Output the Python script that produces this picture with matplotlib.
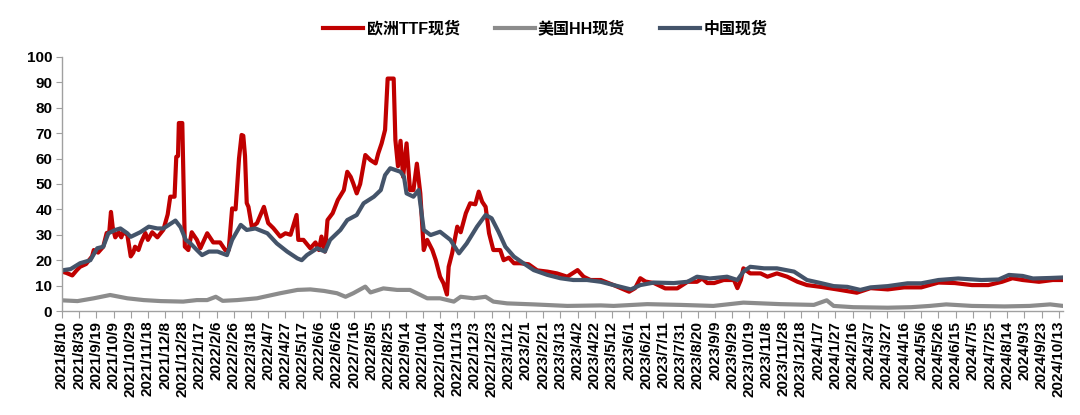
from matplotlib import pyplot as plt
import pandas as pd

plt.rcParams['font.family'] = ['Liberation Sans', 'Noto Sans CJK SC', 'DejaVu Sans']
plt.rcParams['font.weight'] = 'bold'

# 欧洲TTF现货
ttf_dates = ['2021-08-10', '2021-08-15', '2021-08-22', '2021-08-27', '2021-08-31', '2021-09-07',
             '2021-09-14', '2021-09-16', '2021-09-21', '2021-09-27', '2021-10-01', '2021-10-04',
             '2021-10-06', '2021-10-08', '2021-10-11', '2021-10-15', '2021-10-18', '2021-10-20',
             '2021-10-25', '2021-10-29', '2021-11-01', '2021-11-03', '2021-11-07', '2021-11-10',
             '2021-11-15', '2021-11-18', '2021-11-23', '2021-11-29', '2021-12-06', '2021-12-11',
             '2021-12-14', '2021-12-19', '2021-12-21', '2021-12-23', '2021-12-24', '2021-12-28',
             '2021-12-31', '2022-01-04', '2022-01-08', '2022-01-14', '2022-01-18', '2022-01-26',
             '2022-02-02', '2022-02-10', '2022-02-16', '2022-02-20', '2022-02-24', '2022-02-28',
             '2022-03-04', '2022-03-07', '2022-03-09', '2022-03-11', '2022-03-13', '2022-03-15',
             '2022-03-19', '2022-03-25', '2022-04-02', '2022-04-07', '2022-04-13', '2022-04-21',
             '2022-04-27', '2022-05-03', '2022-05-10', '2022-05-12', '2022-05-18', '2022-05-26',
             '2022-06-01', '2022-06-05', '2022-06-08', '2022-06-12', '2022-06-15', '2022-06-21',
             '2022-06-27', '2022-07-04', '2022-07-08', '2022-07-12', '2022-07-15', '2022-07-19',
             '2022-07-23', '2022-07-29', '2022-08-04', '2022-08-10', '2022-08-13', '2022-08-17',
             '2022-08-21', '2022-08-24', '2022-08-31', '2022-09-02', '2022-09-05', '2022-09-08',
             '2022-09-11', '2022-09-15', '2022-09-19', '2022-09-23', '2022-09-27', '2022-10-01',
             '2022-10-05', '2022-10-09', '2022-10-15', '2022-10-19', '2022-10-24', '2022-10-28',
             '2022-11-01', '2022-11-03', '2022-11-07', '2022-11-13', '2022-11-17', '2022-11-23',
             '2022-11-28', '2022-12-04', '2022-12-08', '2022-12-12', '2022-12-16', '2022-12-20',
             '2022-12-25', '2023-01-02', '2023-01-06', '2023-01-12', '2023-01-18', '2023-01-25',
             '2023-02-04', '2023-02-14', '2023-02-26', '2023-03-09', '2023-03-21', '2023-04-02',
             '2023-04-09', '2023-04-17', '2023-04-29', '2023-05-14', '2023-06-01', '2023-06-08',
             '2023-06-14', '2023-06-20', '2023-06-30', '2023-07-13', '2023-07-27', '2023-08-08',
             '2023-08-19', '2023-08-25', '2023-08-31', '2023-09-08', '2023-09-19', '2023-10-01',
             '2023-10-05', '2023-10-09', '2023-10-12', '2023-10-20', '2023-11-01', '2023-11-09',
             '2023-11-20', '2023-12-02', '2023-12-14', '2023-12-25', '2024-01-10', '2024-01-29',
             '2024-02-21', '2024-03-08', '2024-03-28', '2024-04-16', '2024-05-06', '2024-05-26',
             '2024-06-14', '2024-07-04', '2024-07-23', '2024-08-08', '2024-08-20', '2024-09-01',
             '2024-09-20', '2024-10-06', '2024-10-18']
ttf_values = [15.5, 15, 14, 16, 17.4, 18.5,
              21.5, 24, 23, 25.3, 30.7, 31,
              39, 33, 29, 31, 29, 31,
              30, 21.5, 23, 25.3, 24, 27,
              30.7, 28, 31, 29, 32, 38,
              45, 45, 60.7, 61, 74, 74,
              25.3, 24, 31, 28, 24.7, 30.6,
              27, 27, 24, 24, 40.4, 40,
              60, 69.3, 69, 61, 42.5, 41,
              33, 34.6, 41, 34.6, 32.6, 29.3,
              30.6, 30, 37.8, 28, 28, 24.7,
              27, 24, 29.3, 23.4, 35.8, 38.5,
              43.7, 47.6, 54.8, 52.8, 50.2, 46.3,
              50, 61.4, 59.4, 58.1, 62, 66,
              71.3, 91.5, 91.5, 67.3, 57, 67,
              52.8, 66, 47.6, 47.6, 58, 46.3,
              24, 28, 24, 20, 13.5, 10.9,
              6.5, 17.4, 22.7, 33.2, 31, 38.5,
              42.4, 42, 47, 43, 41, 30.6,
              24, 24, 20, 21, 18.8, 18.8,
              18.4, 16, 15.5, 14.8, 13.5, 16.1,
              13.5, 12.2, 12.2, 10.2, 7.6, 9,
              12.9, 11.6, 11, 8.9, 8.9, 11.5,
              11.5, 12.8, 11, 11, 12.2, 12.2,
              9, 12.2, 16.8, 14.8, 14.8, 13.5,
              14.8, 13.5, 11.5, 10.2, 9.5, 8.5,
              7.2, 9, 8.5, 9.3, 9.3, 11.2,
              11, 10.2, 10.2, 11.5, 12.9, 12.2,
              11.5, 12.2, 12.2]

# 美国HH现货
hh_dates = ['2021-08-10', '2021-08-28', '2021-09-16', '2021-10-05', '2021-10-25', '2021-11-13',
            '2021-12-03', '2021-12-29', '2022-01-14', '2022-01-26', '2022-02-05', '2022-02-13',
            '2022-03-02', '2022-03-25', '2022-04-02', '2022-04-21', '2022-05-11', '2022-05-26',
            '2022-06-11', '2022-06-26', '2022-07-06', '2022-07-15', '2022-07-29', '2022-08-04',
            '2022-08-19', '2022-09-04', '2022-09-19', '2022-09-27', '2022-10-09', '2022-10-24',
            '2022-11-09', '2022-11-17', '2022-12-02', '2022-12-16', '2022-12-25', '2023-01-10',
            '2023-02-10', '2023-03-21', '2023-04-29', '2023-05-14', '2023-06-22', '2023-07-31',
            '2023-09-07', '2023-10-12', '2023-11-24', '2024-01-02', '2024-01-17', '2024-01-25',
            '2024-02-17', '2024-03-28', '2024-04-24', '2024-05-16', '2024-06-04', '2024-07-04',
            '2024-08-11', '2024-09-09', '2024-10-03', '2024-10-18']
hh_values = [4.2, 3.9, 5, 6.3, 5, 4.3,
             3.9, 3.7, 4.3, 4.3, 5.6, 4,
             4.3, 5, 5.6, 7, 8.3, 8.5,
             7.9, 7, 5.6, 7, 9.6, 7.3,
             8.9, 8.3, 8.3, 7, 5, 5,
             3.7, 5.6, 5, 5.6, 3.7, 3,
             2.6, 2, 2.2, 2, 2.7, 2.4,
             2, 3.3, 2.7, 2.4, 4.2, 2,
             1.5, 1.3, 1.5, 2, 2.6, 2,
             1.8, 2, 2.6, 2]

# 中国现货
cn_dates = ['2021-08-10', '2021-08-20', '2021-08-31', '2021-09-12', '2021-09-20', '2021-09-27',
            '2021-10-03', '2021-10-11', '2021-10-17', '2021-10-25', '2021-10-29', '2021-11-09',
            '2021-11-19', '2021-11-29', '2021-12-06', '2021-12-20', '2021-12-26', '2022-01-01',
            '2022-01-06', '2022-01-14', '2022-01-20', '2022-01-28', '2022-02-07', '2022-02-18',
            '2022-02-24', '2022-03-06', '2022-03-13', '2022-03-23', '2022-04-06', '2022-04-17',
            '2022-04-29', '2022-05-11', '2022-05-16', '2022-05-22', '2022-06-03', '2022-06-12',
            '2022-06-18', '2022-06-30', '2022-07-08', '2022-07-19', '2022-07-27', '2022-08-08',
            '2022-08-16', '2022-08-21', '2022-08-27', '2022-09-08', '2022-09-12', '2022-09-15',
            '2022-09-23', '2022-09-29', '2022-10-05', '2022-10-13', '2022-10-24', '2022-11-05',
            '2022-11-15', '2022-11-24', '2022-12-06', '2022-12-16', '2022-12-23', '2022-12-31',
            '2023-01-08', '2023-01-18', '2023-01-29', '2023-02-10', '2023-02-26', '2023-03-13',
            '2023-03-28', '2023-04-13', '2023-04-29', '2023-05-14', '2023-06-03', '2023-06-14',
            '2023-06-30', '2023-07-23', '2023-08-08', '2023-08-19', '2023-09-03', '2023-09-23',
            '2023-10-05', '2023-10-12', '2023-10-20', '2023-11-05', '2023-11-20', '2023-12-10',
            '2023-12-25', '2024-01-10', '2024-01-25', '2024-02-10', '2024-02-25', '2024-03-08',
            '2024-03-28', '2024-04-20', '2024-05-06', '2024-05-26', '2024-06-18', '2024-07-15',
            '2024-08-04', '2024-08-16', '2024-09-01', '2024-09-13', '2024-10-03', '2024-10-18']
cn_values = [16, 16.5, 18.8, 20, 24.7, 25.3,
             30.6, 31.9, 32.5, 30.6, 29.2, 31,
             33.2, 32.5, 32.5, 35.6, 33, 28,
             26.8, 24, 22, 23.4, 23.4, 22,
             28, 33.9, 31.9, 32.5, 30.6, 26.6,
             23.4, 20.7, 20, 22, 24.7, 23.4,
             28, 31.9, 35.8, 37.8, 42.4, 45,
             47.6, 53.5, 56.2, 54.8, 52.8, 46.3,
             45, 47.6, 31.9, 29.9, 31.2, 28,
             22.7, 26.6, 33.2, 37.8, 36.5, 31.2,
             25.3, 21.4, 18.8, 16.1, 14.2, 12.9,
             12.2, 12.2, 11.5, 10.2, 8.5, 10.2,
             11.2, 11, 11.5, 13.5, 12.8, 13.5,
             12.2, 15.5, 17.4, 16.8, 16.8, 15.5,
             12.2, 11, 9.8, 9.5, 8.3, 9.3,
             9.8, 10.9, 10.9, 12.2, 12.8, 12.2,
             12.4, 14.2, 13.8, 12.8, 13, 13.2]

series = [
    ('欧洲TTF现货', ttf_dates, ttf_values, '#C00000'),
    ('美国HH现货', hh_dates, hh_values, '#8C8C8C'),
    ('中国现货', cn_dates, cn_values, '#44546A'),
]

fig = plt.figure(figsize=(10.8, 4.15), dpi=100)
ax = fig.add_axes([0.0574, 0.2506, 0.9269, 0.6121])

for name, dates, values, color in series:
    ax.plot(pd.to_datetime(dates), values, color=color, lw=3.0, label=name,
            solid_joinstyle='round')

ticks = pd.date_range('2021-08-10', '2024-10-13', freq='20D')
ax.set_xticks(ticks)
ax.set_xticklabels(['%d/%d/%d' % (t.year, t.month, t.day) for t in ticks],
                   rotation=90, fontsize=11, fontweight='bold')
ax.set_xlim(pd.Timestamp('2021-08-10'), pd.Timestamp('2024-10-18'))

ax.set_ylim(0, 100)
ax.set_yticks(range(0, 101, 10))
ax.tick_params(axis='y', labelsize=11, length=4, color='#A0A0A0', pad=3)
ax.tick_params(axis='x', length=5, color='#A0A0A0', pad=2)
for lbl in ax.get_yticklabels():
    lbl.set_fontweight('bold')

for side in ('top', 'right'):
    ax.spines[side].set_visible(False)
for side in ('left', 'bottom'):
    ax.spines[side].set_color('#A0A0A0')
    ax.spines[side].set_linewidth(1.0)

fig.legend(loc='center', bbox_to_anchor=(0.505, 0.932), ncol=3, frameon=False,
           prop={'size': 11.5, 'weight': 'bold'}, handlelength=2.5,
           handletextpad=0.2, columnspacing=2.2)

fig.savefig('out.png', dpi=100)
